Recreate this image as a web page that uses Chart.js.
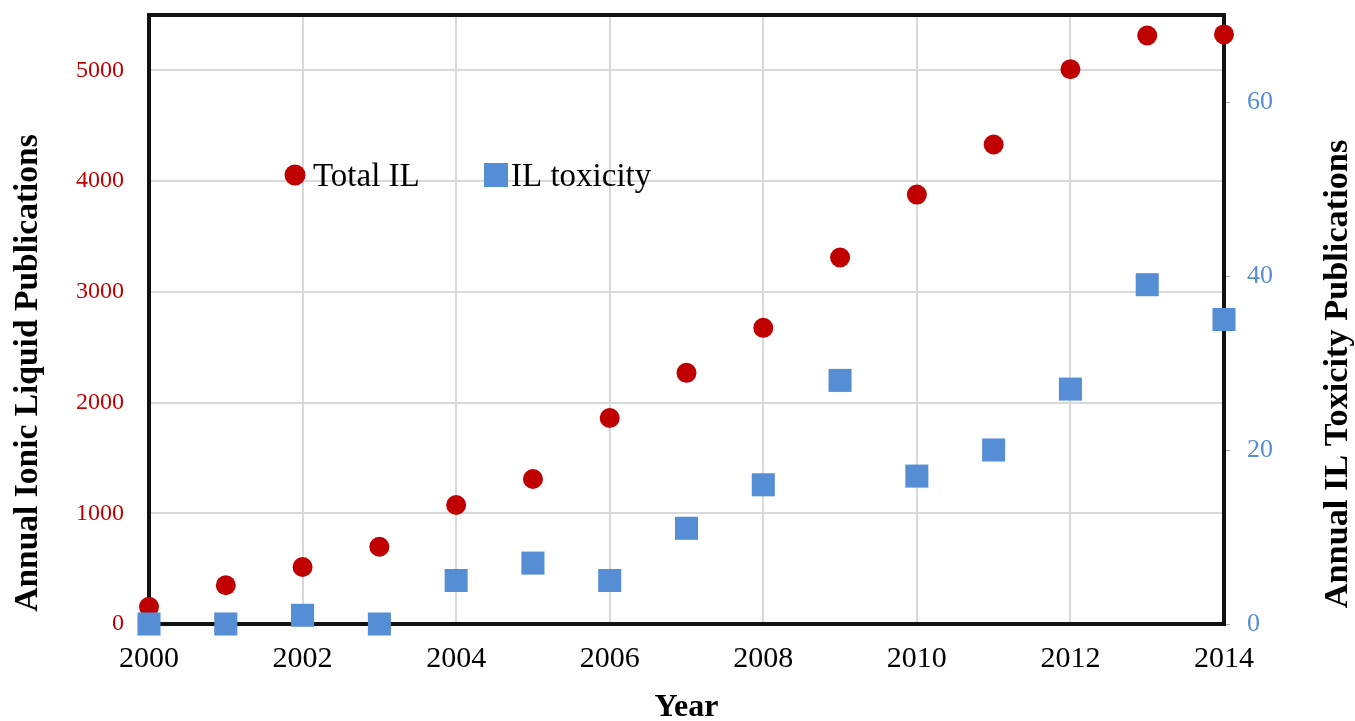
<!DOCTYPE html>
<html>
<head>
    <title>Ionic liquid publications</title>
    <script src="https://cdn.jsdelivr.net/npm/chart.js"></script>
    <style>
        html, body { margin: 0; padding: 0; background: #fff; }
        #wrap { width: 1355px; height: 721px; }
    </style>
</head>
<body>
    <div id="wrap"><canvas id="myChart" width="1355" height="721"></canvas></div>
    <script>
        const years = [2000, 2001, 2002, 2003, 2004, 2005, 2006, 2007, 2008, 2009, 2010, 2011, 2012, 2013, 2014];
        const totalIL = [155, 350, 515, 698, 1075, 1310, 1860, 2268, 2675, 3310, 3878, 4330, 5010, 5315, 5325];
        const ilToxicity = [0, 0, 1, 0, 5, 7, 5, 11, 16, 28, 17, 20, 27, 39, 35];
        const leftTicks = [0, 1000, 2000, 3000, 4000, 5000];
        const rightTicks = [0, 20, 40, 60];
        const xTicks = [2000, 2002, 2004, 2006, 2008, 2010, 2012, 2014];

        const red = '#c00000';
        const blue = '#558ed5';
        const serif = "'Liberation Serif', 'Times New Roman', serif";

        const toPoints = (vals) => years.map((y, i) => ({ x: y, y: vals[i] }));

        // black frame round the plot area, under the markers
        const framePlugin = {
            id: 'frame',
            beforeDatasetsDraw(chart) {
                const a = chart.chartArea;
                const ctx = chart.ctx;
                ctx.save();
                ctx.strokeStyle = '#111';
                ctx.lineWidth = 4;
                ctx.strokeRect(a.left, a.top, a.right - a.left, a.bottom - a.top);
                ctx.restore();
            }
        };

        // legend inside the plot and the two vertical titles (both read bottom to top)
        const extrasPlugin = {
            id: 'extras',
            afterDraw(chart) {
                const ctx = chart.ctx;
                ctx.save();
                ctx.font = '33px ' + serif;
                ctx.textBaseline = 'middle';

                ctx.beginPath();
                ctx.fillStyle = red;
                ctx.arc(295, 175, 10.5, 0, Math.PI * 2);
                ctx.fill();
                ctx.fillStyle = '#000';
                ctx.fillText('Total IL', 313, 177);

                ctx.fillStyle = blue;
                ctx.fillRect(484, 163, 24, 24);
                ctx.fillStyle = '#000';
                ctx.fillText('IL toxicity', 511, 177);

                ctx.textAlign = 'center';
                ctx.font = 'bold 33.5px ' + serif;
                ctx.translate(28, 373);
                ctx.rotate(-Math.PI / 2);
                ctx.fillText('Annual Ionic Liquid Publications', 0, 0);
                ctx.setTransform(1, 0, 0, 1, 0, 0);
                ctx.font = 'bold 34.3px ' + serif;
                ctx.translate(1338, 374);
                ctx.rotate(-Math.PI / 2);
                ctx.fillText('Annual IL Toxicity Publications', 0, 0);
                ctx.restore();
            }
        };

        const keepTicks = (list) => function (scale) {
            scale.ticks = list.map(v => ({ value: v }));
        };

        const noEdgePadding = (size) => function (scale) {
            if (scale.isHorizontal()) {
                scale.height = size;
            } else {
                scale.width = size;
            }
            scale.paddingTop = 0;
            scale.paddingBottom = 0;
            scale.paddingLeft = 0;
            scale.paddingRight = 0;
        };

        const ctx = document.getElementById('myChart').getContext('2d');
        const myChart = new Chart(ctx, {
            type: 'scatter',
            data: {
                datasets: [
                    {
                        label: 'IL toxicity',
                        data: toPoints(ilToxicity),
                        yAxisID: 'y2',
                        pointStyle: 'rect',
                        pointRadius: 16.3,
                        pointHoverRadius: 16.3,
                        backgroundColor: blue,
                        borderColor: blue,
                        borderWidth: 0,
                        clip: false
                    },
                    {
                        label: 'Total IL',
                        data: toPoints(totalIL),
                        yAxisID: 'y',
                        pointStyle: 'circle',
                        pointRadius: 10,
                        pointHoverRadius: 10,
                        backgroundColor: red,
                        borderColor: red,
                        borderWidth: 0,
                        clip: false
                    }
                ]
            },
            options: {
                responsive: false,
                animation: false,
                layout: { autoPadding: false, padding: { top: 15, left: 0, right: 0, bottom: 0 } },
                plugins: {
                    legend: { display: false },
                    tooltip: { enabled: false }
                },
                scales: {
                    x: {
                        type: 'linear',
                        min: 2000,
                        max: 2014,
                        afterBuildTicks: keepTicks(xTicks),
                        afterFit: noEdgePadding(97),
                        border: { display: false },
                        grid: { color: '#d9d9d9', lineWidth: 2, drawTicks: false },
                        ticks: {
                            color: '#000',
                            padding: 17,
                            font: { family: serif, size: 30 },
                            callback: v => String(v)
                        },
                        title: {
                            display: true,
                            text: 'Year',
                            color: '#000',
                            padding: { top: 0, bottom: -6 },
                            font: { family: serif, size: 32, weight: 'bold' }
                        }
                    },
                    y: {
                        position: 'left',
                        min: 0,
                        max: 5500,
                        afterBuildTicks: keepTicks(leftTicks),
                        afterFit: noEdgePadding(149),
                        border: { display: false },
                        grid: { color: '#d9d9d9', lineWidth: 2, drawTicks: false },
                        ticks: {
                            color: red,
                            padding: 25,
                            font: { family: serif, size: 24 },
                            callback: v => String(v)
                        }
                    },
                    y2: {
                        position: 'right',
                        min: 0,
                        max: 70,
                        afterBuildTicks: keepTicks(rightTicks),
                        afterFit: noEdgePadding(131),
                        border: { display: false },
                        grid: { drawOnChartArea: false, drawTicks: true, tickLength: 6, color: '#aaa' },
                        ticks: {
                            color: blue,
                            padding: 17,
                            font: { family: serif, size: 26 },
                            callback: v => String(v)
                        }
                    }
                }
            },
            plugins: [framePlugin, extrasPlugin]
        });
    </script>
</body>
</html>
